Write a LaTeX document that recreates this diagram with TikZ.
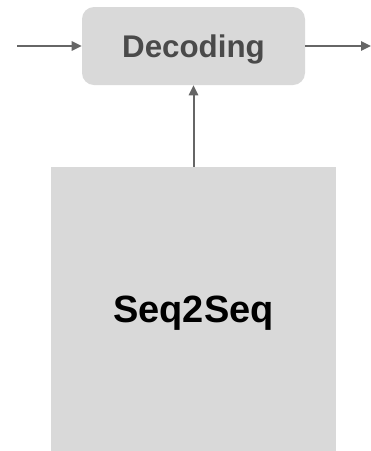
\documentclass[tikz,border=0pt]{standalone}
\usepackage{fontspec}
\setmainfont{Liberation Sans}
\usetikzlibrary{arrows.meta, positioning}
\definecolor{boxgray}{HTML}{D9D9D9}
\definecolor{textgray}{HTML}{4A4A4A}
\definecolor{linegray}{HTML}{666666}
\tikzstyle{stage} = [rectangle, rounded corners=9pt, minimum width=167.25pt, minimum height=58.5pt, text centered, text depth=0pt, fill=boxgray, text=textgray, font=\bfseries\fontsize{23.5}{28}\selectfont]
\tikzstyle{model} = [rectangle, minimum width=213.75pt, minimum height=213pt, text centered, text depth=0pt, fill=boxgray, text=black, font=\bfseries\fontsize{28.5}{34}\selectfont]
\tikzstyle{arrow} = [line width=1.5pt, draw=linegray, -{Triangle[length=7.5pt,width=7pt]}]

\begin{document}
\begin{tikzpicture}[x=0.75pt, y=-0.75pt]
\useasboundingbox (0,0) rectangle (371,451);

% Blocks
\node (decoding) [stage] at (193.5,46) {Decoding};
\node (seq2seq) [model] at (193.5,309) {Seq2Seq};

% Free ends of the side arrows
\coordinate (input) at (17,46);
\coordinate (output) at (371,46);

% Flow
\draw [arrow] (input) -- (decoding.west);
\draw [arrow] (decoding.east) -- (output);
\draw [arrow] (seq2seq.north) -- (decoding.south);

\end{tikzpicture}
\end{document}
